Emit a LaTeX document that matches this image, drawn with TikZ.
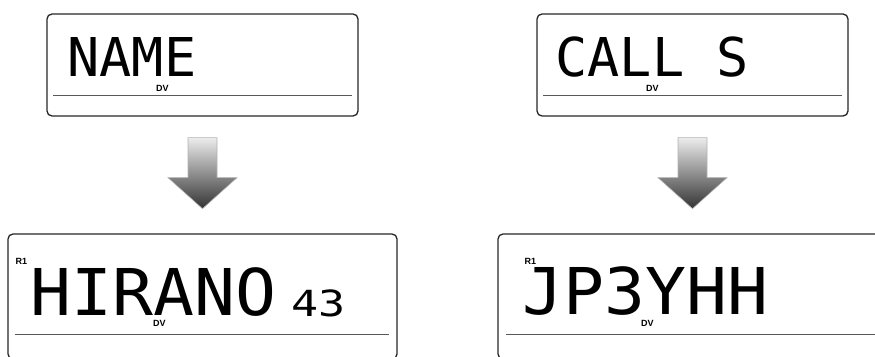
\documentclass[tikz,border=0pt]{standalone}
\usepackage{fontspec}
\setmainfont{Liberation Sans}
\newfontfamily\lcdfont{DejaVu Sans Mono}
\usetikzlibrary{positioning,calc}

\begin{document}
\begin{tikzpicture}[x=1pt, y=-1pt,
    lcd/.style={draw=black!85, line width=1.3pt, rounded corners=5pt,
      inner sep=0pt},
    seg/.style={font=\lcdfont\fontsize{53.5}{54}\selectfont, inner sep=0pt,
      text depth=0pt, anchor=base west},
    bigseg/.style={seg, font=\lcdfont\fontsize{64.5}{65}\selectfont, xscale=1.055},
    smallseg/.style={seg, font=\lcdfont\fontsize{36}{36}\selectfont, xscale=1.25},
    tag/.style={font=\fontsize{9}{9}\selectfont\bfseries, inner sep=0pt},
    rule/.style={draw=black!65, line width=0.9pt},
    downarrow/.style={draw=gray!60, line width=0.6pt, top color=gray!15,
      bottom color=black!80} ]

  \clip (0,0) rectangle (875,356);

  % displays before
  \node[lcd, minimum width=311pt, minimum height=102pt] (name) at (202.5,65) {};
  \node[lcd, minimum width=311pt, minimum height=102pt] (call) at (692.5,65) {};

  % displays after
  \node[lcd, minimum width=389pt, minimum height=125pt] (hirano) at (202.5,296.5) {};
  \node[lcd, minimum width=384pt, minimum height=125pt] (jp) at (690,296.5) {};

  \draw[rule] ([shift={(7,-21)}]name.south west) -- ([shift={(-7,-21)}]name.south east);
  \draw[rule] ([shift={(7,-21)}]call.south west) -- ([shift={(-7,-21)}]call.south east);
  \draw[rule] ([shift={(8,-25)}]hirano.south west) -- ([shift={(-9,-25)}]hirano.south east);
  \draw[rule] ([shift={(9,-25)}]jp.south west) -- ([shift={(-2,-25)}]jp.south east);

  \node[seg] (nametxt) at ([shift={(21,63)}]name.north west) {NAME};
  \node[seg] (calltxt) at ([shift={(19,63)}]call.north west) {CALL S};
  \node[bigseg] (hiranotxt) at ([shift={(23,82)}]hirano.north west) {HIRANO};
  \node[smallseg] (numtxt) at (291,316) {43};
  \node[bigseg] (jptxt) at ([shift={(25,81)}]jp.north west) {JP3YHH};

  \node[tag] (dv1) at ([shift={(116,75)}]name.north west) {DV};
  \node[tag] (dv2) at ([shift={(116,75)}]call.north west) {DV};
  \node[tag] (dv3) at ([shift={(152,90)}]hirano.north west) {DV};
  \node[tag] (dv4) at ([shift={(150,90)}]jp.north west) {DV};
  \node[tag] (r1a) at ([shift={(14,28)}]hirano.north west) {R1};
  \node[tag] (r1b) at ([shift={(33,28)}]jp.north west) {R1};

  % block arrows
  \foreach \src in {name, call} {
    \coordinate (c) at ([shift={(0,21)}]\src.south);
    \path[downarrow] ([shift={(-14.5,0)}]c) -- ([shift={(14.5,0)}]c)
      -- ([shift={(14.5,40)}]c) -- ([shift={(34.5,40)}]c)
      -- ([shift={(0,71)}]c) -- ([shift={(-34.5,40)}]c)
      -- ([shift={(-14.5,40)}]c) -- cycle;
  }

\end{tikzpicture}
\end{document}
